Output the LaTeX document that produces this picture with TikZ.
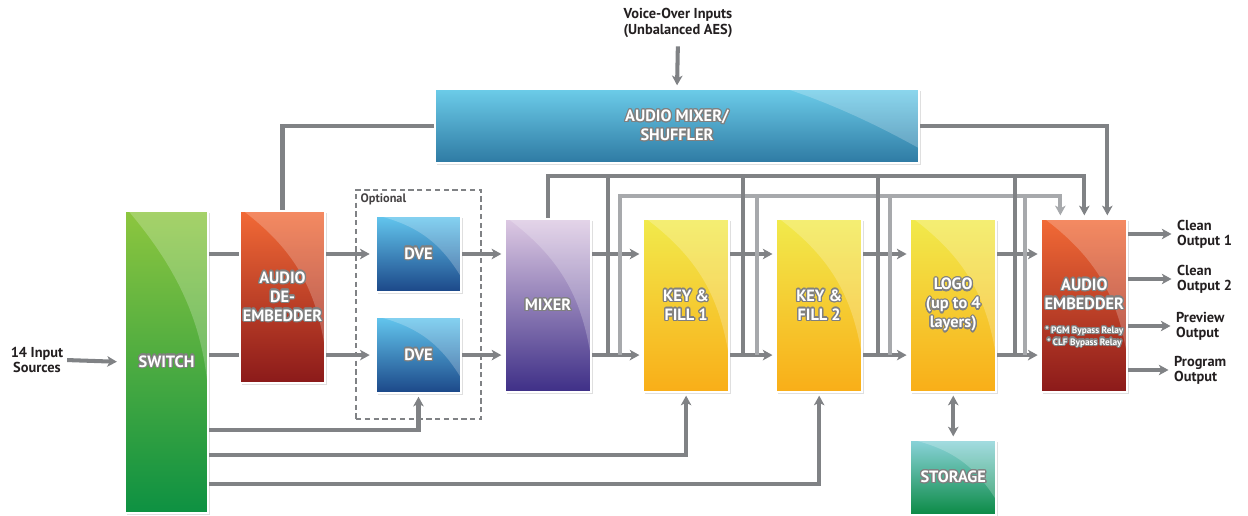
\documentclass[tikz,border=0pt]{standalone}
\usepackage{fontspec}
\setmainfont{PT Sans}
\usepackage[copies]{contour}
\contourlength{0.7pt}
\usetikzlibrary{positioning,calc,fit,shadows,arrows.meta}

\definecolor{swtop}{HTML}{8DC63F}
\definecolor{swbot}{HTML}{0D9142}
\definecolor{detop}{HTML}{F26A36}
\definecolor{debot}{HTML}{8B1A1A}
\definecolor{dvtop}{HTML}{63C6EE}
\definecolor{dvbot}{HTML}{1B4788}
\definecolor{mxtop}{HTML}{DDC9E3}
\definecolor{mxbot}{HTML}{3E2F87}
\definecolor{kftop}{HTML}{F1EA4C}
\definecolor{kfbot}{HTML}{F9AE18}
\definecolor{amtop}{HTML}{6CCCE9}
\definecolor{ambot}{HTML}{2E7AA3}
\definecolor{sttop}{HTML}{8AD3DA}
\definecolor{stbot}{HTML}{0B8A45}
\definecolor{wire}{HTML}{808285}
\definecolor{wirel}{HTML}{A7A9AC}
\definecolor{txt}{HTML}{231F20}

\newcommand{\bx}[1]{\contour{black!50}{#1}}
\newcommand{\boxfont}{\bfseries\fontsize{9.3}{10.8}\selectfont}
\newcommand{\labfont}{\bfseries\fontsize{8.2}{8.6}\selectfont}
\newcommand{\optfont}{\bfseries\fontsize{7}{8}\selectfont}
\newcommand{\relayfont}{\bfseries\fontsize{5.3}{6.5}\selectfont}

\tikzset{
  blk/.style 2 args={draw=white, line width=1.2pt, top color=#1, bottom color=#2,
    minimum width=1.72cm, minimum height=3.46cm, inner sep=1pt, align=center,
    text=white, font=\boxfont,
    drop shadow={opacity=.25, shadow xshift=1pt, shadow yshift=-1pt},
    path picture={\fill[white, fill opacity=.22]
      ([xshift=2pt]path picture bounding box.north west) to[bend left=22]
      ($(path picture bounding box.north east)!.8!(path picture bounding box.south east)$)
      -- (path picture bounding box.north east) -- cycle;}},
  blktext/.style={text=white, font=\boxfont, align=center, inner sep=1pt},
  lab/.style={text=txt, font=\labfont, align=center, inner sep=1pt},
  wire/.style={draw=wire, line width=2.3pt},
  wirel/.style={draw=wirel, line width=2.3pt},
  arr/.style={wire, -{Stealth[length=5.5pt, width=6pt, inset=1.5pt]}, shorten >=1.5pt},
  arrl/.style={wirel, -{Stealth[length=5.5pt, width=6pt, inset=1.5pt]}, shorten >=1.5pt},
  optbox/.style={draw=wire, line width=1pt, dash pattern=on 3pt off 2pt}
}

\begin{document}
\begin{tikzpicture}[x=0.02cm, y=-0.02cm]
\useasboundingbox (0,0) rectangle (1248,516);

% blocks
\node[blk={swtop}{swbot}, minimum width=1.66cm, minimum height=6.04cm] (sw) at (166.5,362) {\bx{SWITCH}};
\node[blk={detop}{debot}, minimum width=1.7cm, minimum height=3.44cm] (deemb) at (282.5,297) {\bx{AUDIO}\\\bx{DE-}\\\bx{EMBEDDER}};
\node[blk={dvtop}{dvbot}, minimum width=1.7cm, minimum height=1.52cm] (dve1) at (418.5,254) {\bx{DVE}};
\node[blk={dvtop}{dvbot}, minimum width=1.7cm, minimum height=1.52cm, below=0.46cm of dve1] (dve2) {\bx{DVE}};
\node[blk={mxtop}{mxbot}] (mix) at (548,305.5) {\bx{MIXER}};
\node[blk={kftop}{kfbot}, right=1.0cm of mix] (kf1) {\bx{KEY \&}\\\bx{FILL 1}};
\node[blk={kftop}{kfbot}, right=0.9cm of kf1] (kf2) {\bx{KEY \&}\\\bx{FILL 2}};
\node[blk={kftop}{kfbot}, right=0.92cm of kf2] (logo) {\bx{LOGO}\\\bx{(up to 4}\\\bx{layers)}};
\node[blk={detop}{debot}, right=0.86cm of logo] (aemb) {};
\node[blktext] (aembt) at ($(aemb.center)+(0,-11)$) {\bx{AUDIO}\\\bx{EMBEDDER}};
\node[blktext, font=\relayfont] (relay) at ($(aemb.center)+(0,32)$) {\bx{* PGM Bypass Relay}\\\bx{* CLF Bypass Relay}};
\node[blk={amtop}{ambot}, minimum width=9.68cm, minimum height=1.48cm] (amix) at (677,126) {\bx{AUDIO MIXER/}\\\bx{SHUFFLER}};
\node[blk={sttop}{stbot}, minimum height=1.5cm, below=0.92cm of logo] (st) {\bx{STORAGE}};
\node[optbox, fit=(dve1)(dve2), inner xsep=0.38cm, inner ysep=0.5cm] (opt) {};

% labels
\node[lab, anchor=north west, font=\optfont, text=txt!85] (optl) at ([xshift=2pt, yshift=-1.5pt]opt.north west) {Optional};
\node[lab] (inp) at (37,360) {14 Input\\Sources};
\node[lab] (vo) at (678,23) {Voice-Over Inputs\\(Unbalanced AES)};
\node[lab, anchor=west, align=left] (out1) at (1175,234) {Clean\\Output 1};
\node[lab, anchor=west, align=left] (out2) at (1175,279) {Clean\\Output 2};
\node[lab, anchor=west, align=left] (out3) at (1174,326) {Preview\\Output};
\node[lab, anchor=west, align=left] (out4) at (1172,370) {Program\\Output};

\coordinate (busA) at (0,176);
\coordinate (busB) at (0,196);
\coordinate (lvA) at (0,430);
\coordinate (lvB) at (0,455);
\coordinate (lvC) at (0,484);

% video path
\draw[arr, shorten <=1pt, shorten >=4pt] (inp.east) -- (sw.west);
\draw[wire] (sw.east |- dve1) -- (deemb.west |- dve1);
\draw[wire] (sw.east |- dve2) -- (deemb.west |- dve2);
\draw[arr, shorten >=3pt] (deemb.east |- dve1) -- (dve1.west);
\draw[arr, shorten >=3pt] (deemb.east |- dve2) -- (dve2.west);
\draw[arr] (dve1.east) -- (mix.west |- dve1);
\draw[arr] (dve2.east) -- (mix.west |- dve2);
\foreach \a/\b in {mix/kf1, kf1/kf2, kf2/logo, logo/aemb} {
  \draw[arr] (\a.east |- dve1) -- (\b.west |- dve1);
  \draw[arr] (\a.east |- dve2) -- (\b.west |- dve2);
}

% busses to the embedder
\foreach \s/\da/\db in {mix/16/28, kf1/13/27, kf2/15/27, logo/18/28} {
  \coordinate (dk\s) at ($(\s.east |- dve2)+(\da,0)$);
  \coordinate (lt\s) at ($(\s.east |- dve2)+(\db,0)$);
}
\draw[arrl] (ltmix) -- (ltmix |- busB) -| ($(aemb.north)+(-24,0)$);
\foreach \s in {kf1, kf2, logo}
  \draw[wirel] (lt\s |- busB) -- (lt\s);
\draw[arr] (mix.north) -- (mix.north |- busA) -| (aemb.north);
\foreach \s in {mix, kf1, kf2, logo}
  \draw[wire] (dk\s |- busA) -- (dk\s);

% audio
\draw[wire] (deemb.north) |- (amix.west);
\draw[arr] (amix.east) -| ($(aemb.north)+(23,0)$);
\draw[arr, shorten <=4pt] (vo.south) -- (amix.north);

% key, fill and dve sources
\draw[arr] (sw.east |- lvA) -| (dve2.south);
\draw[arr] (sw.east |- lvB) -| (kf1.south);
\draw[arr] (sw.east |- lvC) -| (kf2.south);
\draw[wire, {Stealth[length=5.5pt, width=6pt, inset=1.5pt]}-{Stealth[length=5.5pt, width=6pt, inset=1.5pt]}, shorten <=1.5pt, shorten >=1.5pt] (logo.south) -- (st.north);

% outputs
\foreach \o in {out1, out2, out3, out4}
  \draw[arr, shorten >=2pt] (aemb.east |- \o) -- (\o.west);
\end{tikzpicture}
\end{document}
